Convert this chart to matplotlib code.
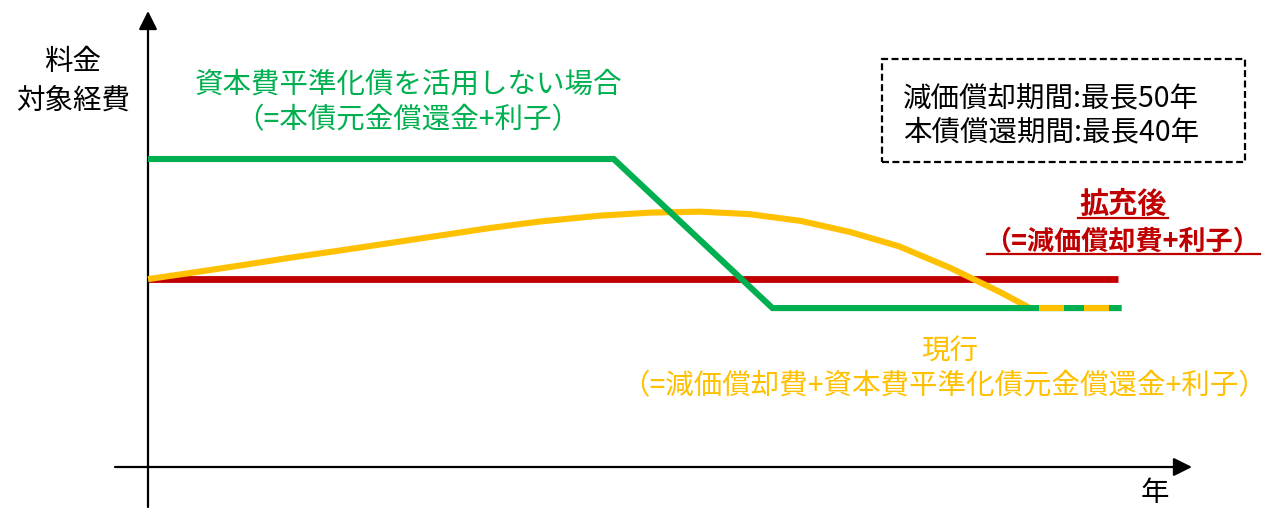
import numpy as np
import matplotlib
matplotlib.use('Agg')
import matplotlib.pyplot as plt
from matplotlib.patches import Rectangle
from matplotlib.lines import Line2D

plt.rcParams['font.family'] = ['Noto Sans CJK JP', 'DejaVu Sans']
plt.rcParams['lines.scale_dashes'] = False

# --- data (years, cost units) ---
green_x = [0, 26.4, 35.4, 55.2]          # 資本費平準化債を活用しない場合
green_y = [100, 100, 51.6, 51.6]
red_x = [0, 55.0]                         # 拡充後
red_y = [61, 61]
yellow_x = [0, 2.4, 5.2, 8.0, 10.9, 13.7, 16.6, 19.4, 22.2, 25.6, 28.5, 31.3,
            34.1, 37.0, 39.8, 42.6, 45.5, 48.3, 50.0]  # 現行
yellow_y = [61.0, 63.0, 65.4, 67.9, 70.3, 72.7, 75.2, 77.6, 79.7, 81.6, 82.6, 82.9,
            82.1, 79.9, 76.3, 71.6, 64.6, 56.8, 51.6]
yellow_tail_x = [50.0, 54.5]
yellow_tail_y = [51.6, 51.6]

box_lines = ['減価償却期間:最長50年', '本債償還期間:最長40年']

GREEN = '#00B050'
RED = '#C00000'
YELLOW = '#FFC000'

W, H = 1274, 510
KX, KY = 17.64, 3.08      # px per year / px per unit
X0, Y0 = 148, 468         # origin in pixels


def fp(x, y):
    """pixel -> figure fraction"""
    return x / W, 1 - y / H


fig = plt.figure(figsize=(W / 100, H / 100), dpi=100)
ax = fig.add_axes([0, 0, 1, 1])
ax.set_xlim(-X0 / KX, (W - X0) / KX)
ax.set_ylim((Y0 - H) / KY, Y0 / KY)
ax.axis('off')

# axes arrows
arrow = dict(arrowstyle='-|>', mutation_scale=28, color='black', lw=1.6,
             shrinkA=0, shrinkB=0)
ax.annotate('', xy=(0, (Y0 - 12) / KY), xytext=(0, (Y0 - 508) / KY), arrowprops=arrow)
ax.annotate('', xy=((1192 - X0) / KX, 0), xytext=((115 - X0) / KX, 0), arrowprops=arrow)

# series
ax.plot(red_x, red_y, color=RED, lw=4.9, solid_capstyle='butt', zorder=2)
ax.plot(yellow_x, yellow_y, color=YELLOW, lw=4.4, solid_capstyle='butt',
        solid_joinstyle='round', zorder=3)
ax.plot(green_x, green_y, color=GREEN, lw=4.4, solid_capstyle='butt',
        solid_joinstyle='miter', zorder=4)
on, off = 25 * 0.72, 20 * 0.72
ax.plot(yellow_tail_x, yellow_tail_y, color=YELLOW, lw=4.4, dash_capstyle='butt',
        linestyle=(on + off - 9 * 0.72, (on, off)), zorder=5)

fs = 20.5
# y label
fig.text(*fp(73, 62), '料金', fontsize=fs, ha='center', va='center')
fig.text(*fp(73, 101), '対象経費', fontsize=fs, ha='center', va='center')
fig.text(*fp(1155, 493), '年', fontsize=fs, ha='center', va='center')

# green labels
fig.text(*fp(408, 85), '資本費平準化債を活用しない場合', fontsize=fs, color=GREEN,
         ha='center', va='center')
fig.text(*fp(408, 120), '（=本債元金償還金+利子）', fontsize=fs, color=GREEN,
         ha='center', va='center')

# yellow labels
fig.text(*fp(950, 352), '現行', fontsize=fs, color=YELLOW, ha='center', va='center')
fig.text(*fp(944, 386), '（=減価償却費+資本費平準化債元金償還金+利子）', fontsize=fs,
         color=YELLOW, ha='center', va='center')

# red labels (bold, underlined)
fig.text(*fp(1123, 204), '拡充後', fontsize=21, color=RED, fontweight='bold',
         ha='center', va='center')
fig.text(*fp(1122, 241), '（=減価償却費+利子）', fontsize=19.5, color=RED,
         fontweight='bold', ha='center', va='center')
for ux0, ux1, uy in [(1078, 1168, 219), (987, 1260, 255)]:
    fig.lines.append(Line2D([ux0 / W, ux1 / W], [1 - uy / H] * 2,
                            transform=fig.transFigure, color=RED, lw=1.6))

# dashed box
bx0, by0 = fp(882, 163)
bx1, by1 = fp(1245, 60)
fig.patches.append(Rectangle((bx0, by0), bx1 - bx0, by1 - by0, transform=fig.transFigure,
                             fill=False, ec='black', lw=1.6, ls=(0, (5, 2.5))))
for i, s in enumerate(box_lines):
    fig.text(*fp(903, 98 + i * 34), s, fontsize=fs, ha='left', va='center')

fig.savefig('out.png', dpi=100)
